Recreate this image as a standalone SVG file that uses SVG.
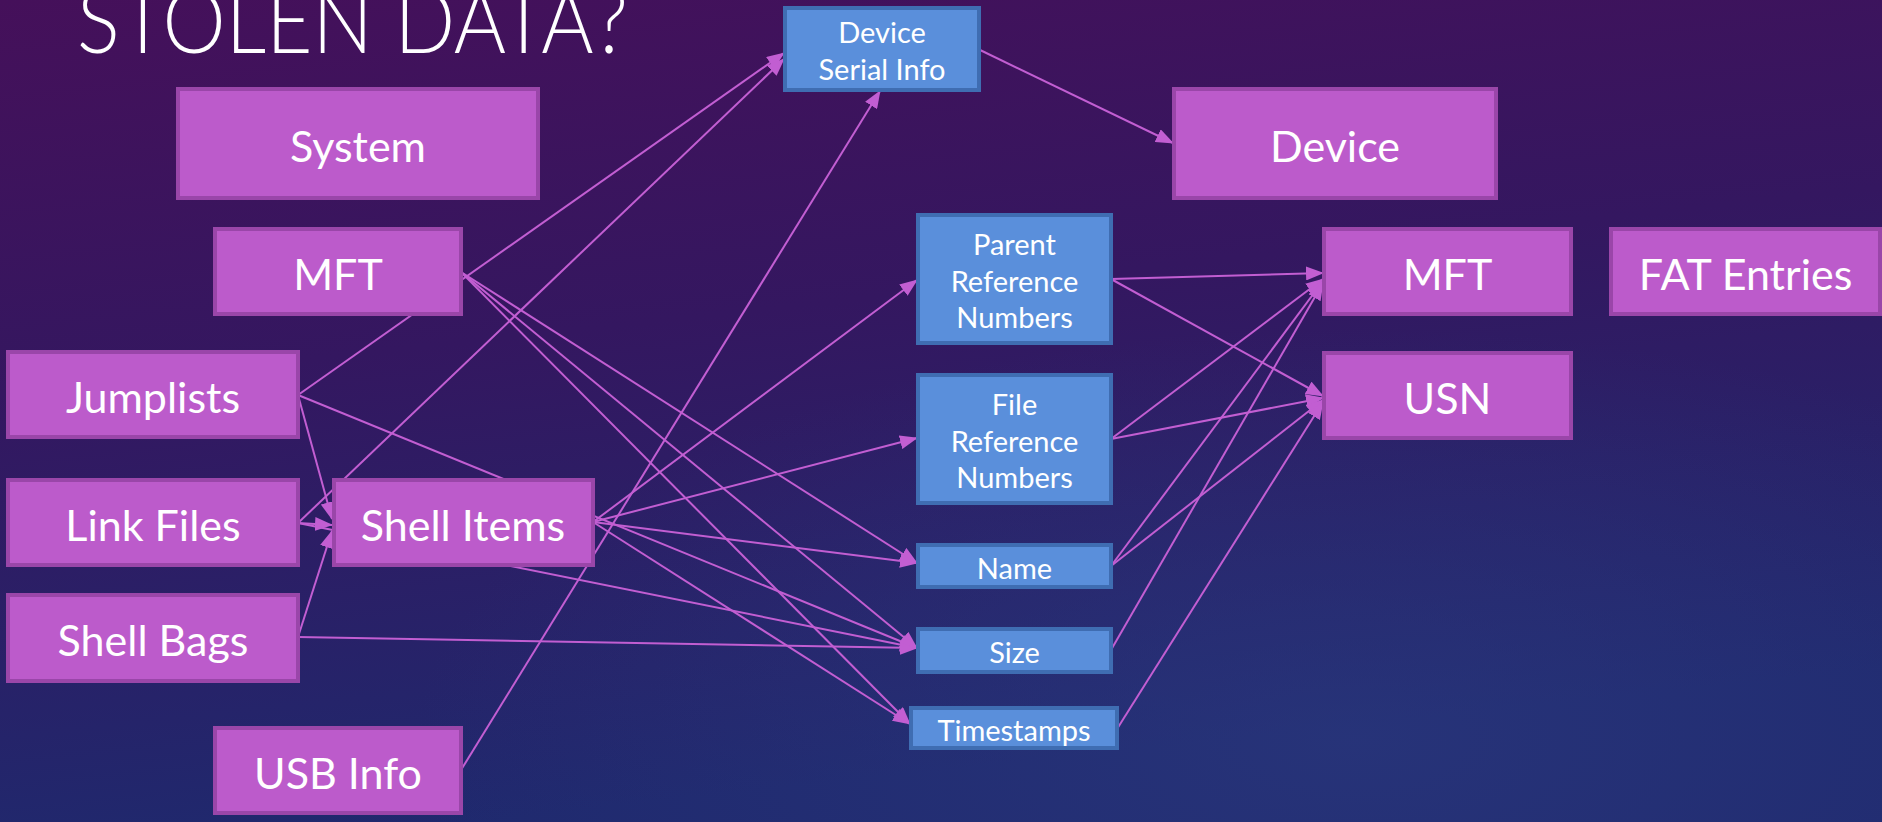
<svg xmlns="http://www.w3.org/2000/svg" width="1882" height="822" viewBox="0 0 1882 822">
  <defs>
    <linearGradient id="bg" x1="0" y1="0" x2="0.25" y2="1">
      <stop offset="0" stop-color="#45105A"/>
      <stop offset="0.45" stop-color="#341760"/>
      <stop offset="1" stop-color="#1F296E"/>
    </linearGradient>
    <radialGradient id="glow" cx="0.72" cy="0.9" r="0.5">
      <stop offset="0" stop-color="#2C3A80" stop-opacity="0.6"/>
      <stop offset="1" stop-color="#2C3A80" stop-opacity="0"/>
    </radialGradient>
    <marker id="arr" markerUnits="userSpaceOnUse" markerWidth="18" markerHeight="14" refX="17" refY="7" orient="auto">
      <path d="M0,0 L18,7 L0,14 z" fill="#C25ED2"/>
    </marker>
    <style>
      .pk { fill: #BC5BCB; stroke: #9A46A9; stroke-width: 4; }
      .bl { fill: #5A8FDB; stroke: #3F6DB2; stroke-width: 4; }
      .big { font-family: Lato, "Open Sans", "Liberation Sans", sans-serif; font-size: 43px; fill: #FFFFFF; text-anchor: middle; }
      .sm { font-family: Lato, "Open Sans", "Liberation Sans", sans-serif; font-size: 29px; fill: #FFFFFF; text-anchor: middle; }
      .title { font-family: Lato, "Open Sans", "Liberation Sans", sans-serif; font-weight: 300; font-size: 90px; fill: #FFFFFF; }
      .cn line { stroke: #C25ED2; stroke-width: 2; fill: none; }
      .cn .a { marker-end: url(#arr); }
    </style>
  </defs>

  <rect x="0" y="0" width="1882" height="822" fill="url(#bg)"/>
  <rect x="0" y="0" width="1882" height="822" fill="url(#glow)"/>

  <text class="title" x="77" y="53" textLength="551" lengthAdjust="spacingAndGlyphs">STOLEN DATA?</text>

  <g id="connectors" class="cn">
    <line class="a" x1="298" y1="395" x2="784" y2="53"/>
    <line class="a" x1="298" y1="523" x2="784" y2="59"/>
    <line class="a" x1="461" y1="770" x2="880" y2="91"/>
    <line class="a" x1="978" y1="49" x2="1173" y2="143"/>
    <line class="a" x1="298" y1="395" x2="332" y2="519"/>
    <line class="a" x1="298" y1="523" x2="332" y2="525"/>
    <line class="a" x1="298" y1="637" x2="332" y2="531"/>
    <line class="a" x1="298" y1="395" x2="917" y2="648"/>
    <line class="a" x1="298" y1="523" x2="917" y2="648"/>
    <line class="a" x1="298" y1="637" x2="917" y2="648"/>
    <line class="a" x1="461" y1="272" x2="917" y2="563"/>
    <line class="a" x1="461" y1="272" x2="917" y2="648"/>
    <line class="a" x1="461" y1="272" x2="910" y2="724"/>
    <line class="a" x1="593" y1="522" x2="917" y2="280"/>
    <line class="a" x1="593" y1="522" x2="917" y2="438"/>
    <line class="a" x1="593" y1="522" x2="917" y2="563"/>
    <line class="a" x1="593" y1="522" x2="910" y2="724"/>
    <line class="a" x1="1111" y1="279" x2="1323" y2="273"/>
    <line class="a" x1="1111" y1="279" x2="1323" y2="396"/>
    <line class="a" x1="1111" y1="439" x2="1323" y2="279"/>
    <line class="a" x1="1111" y1="439" x2="1323" y2="398"/>
    <line class="a" x1="1111" y1="566" x2="1323" y2="281"/>
    <line class="a" x1="1111" y1="566" x2="1323" y2="400"/>
    <line class="a" x1="1111" y1="650" x2="1323" y2="283"/>
    <line class="a" x1="1117" y1="729" x2="1323" y2="402"/>
  </g>

  <g id="system"><rect class="pk" x="178" y="89" width="360" height="109"/><text class="big" x="358" y="162">System</text></g>
  <g id="mft-left"><rect class="pk" x="215" y="229" width="246" height="85"/><text class="big" x="338" y="290">MFT</text></g>
  <g id="jumplists"><rect class="pk" x="8" y="352" width="290" height="85"/><text class="big" x="153" y="413">Jumplists</text></g>
  <g id="link-files"><rect class="pk" x="8" y="480" width="290" height="85"/><text class="big" x="153" y="541">Link Files</text></g>
  <g id="shell-items"><rect class="pk" x="334" y="480" width="259" height="85"/><text class="big" x="463" y="541">Shell Items</text></g>
  <g id="shell-bags"><rect class="pk" x="8" y="595" width="290" height="86"/><text class="big" x="153" y="656">Shell Bags</text></g>
  <g id="usb-info"><rect class="pk" x="215" y="728" width="246" height="85"/><text class="big" x="338" y="789">USB Info</text></g>

  <g id="device-serial-info"><rect class="bl" x="785" y="8" width="194" height="82"/><text class="sm" x="882" y="43">Device</text><text class="sm" x="882" y="80">Serial Info</text></g>
  <g id="device"><rect class="pk" x="1174" y="89" width="322" height="109"/><text class="big" x="1335" y="162">Device</text></g>

  <g id="parent-ref"><rect class="bl" x="918" y="215" width="193" height="128"/><text class="sm" x="1014.5" y="255">Parent</text><text class="sm" x="1014.5" y="292">Reference</text><text class="sm" x="1014.5" y="328">Numbers</text></g>
  <g id="file-ref"><rect class="bl" x="918" y="375" width="193" height="128"/><text class="sm" x="1014.5" y="415">File</text><text class="sm" x="1014.5" y="452">Reference</text><text class="sm" x="1014.5" y="488">Numbers</text></g>
  <g id="name"><rect class="bl" x="918" y="545" width="193" height="42"/><text class="sm" x="1014.5" y="579">Name</text></g>
  <g id="size"><rect class="bl" x="918" y="629" width="193" height="43"/><text class="sm" x="1014.5" y="663">Size</text></g>
  <g id="timestamps"><rect class="bl" x="911" y="708" width="206" height="40"/><text class="sm" x="1014" y="741">Timestamps</text></g>

  <g id="mft-right"><rect class="pk" x="1324" y="229" width="247" height="85"/><text class="big" x="1447.5" y="290">MFT</text></g>
  <g id="fat-entries"><rect class="pk" x="1611" y="229" width="269" height="85"/><text class="big" x="1745.5" y="290">FAT Entries</text></g>
  <g id="usn"><rect class="pk" x="1324" y="353" width="247" height="85"/><text class="big" x="1447.5" y="414">USN</text></g>
</svg>
